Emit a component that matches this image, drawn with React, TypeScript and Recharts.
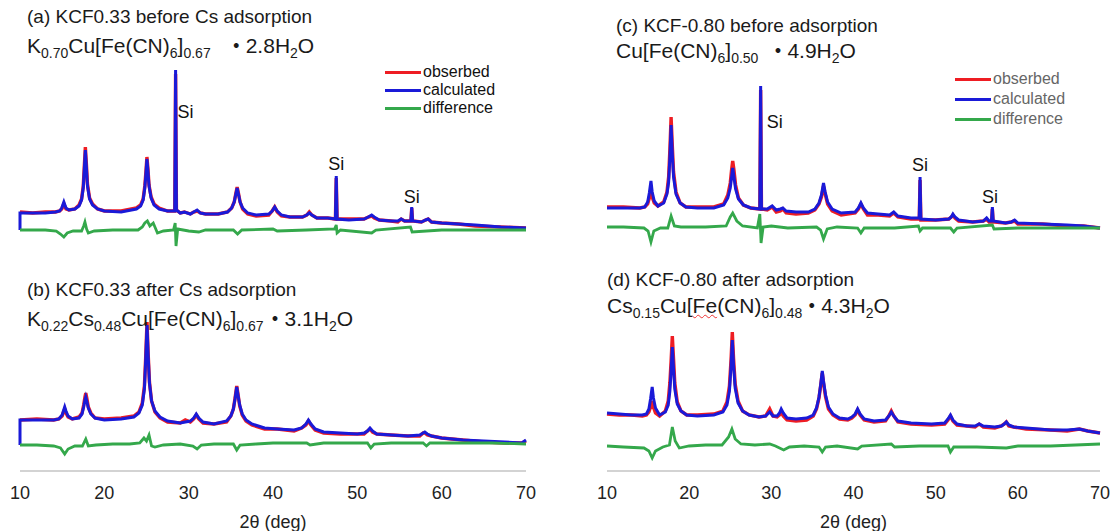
import * as React from 'react';
import { LineChart, Line, XAxis, YAxis, ReferenceDot } from 'recharts';

// 2θ (deg), intensity (a.u.)
const obsA = [[10,38],[11.5,37],[13,38],[14.2,38],[14.7,39],[14.95,41],[15.2,46],[15.45,41],[15.8,40],[16.5,41],[17.0,45],[17.3,51],[17.5,64],[17.62,83],[17.75,103],[17.88,85],[18.0,66],[18.25,52],[18.6,46],[19.2,41],[20,39],[22,39],[23.8,42],[24.3,45],[24.6,51],[24.8,64],[24.93,78],[25.05,93],[25.18,80],[25.3,65],[25.55,53],[25.9,46],[26.5,42],[27.5,39],[28.35,39],[28.45,176],[28.55,40],[29.0,37],[29.5,38],[30.2,36],[30.6,38],[31.0,39],[31.4,37],[32,36],[33.5,36],[34.6,38],[35.1,42],[35.4,48],[35.6,57],[35.75,63],[35.9,57],[36.1,48],[36.4,41],[37,36],[38,34],[39.5,35],[39.9,39],[40.2,43],[40.5,38],[41,34],[42,33],[43.5,33],[44.0,35],[44.3,38],[44.6,35],[45.2,32],[46.5,32],[47.4,31],[47.5,72],[47.6,31],[49,31],[50.8,31],[51.3,33],[51.7,34],[52.0,32],[52.6,30],[54,29],[54.8,28],[55.2,31],[55.6,29],[56.35,29],[56.45,42],[56.55,29],[57.6,28],[58.1,30],[58.4,31],[58.8,28],[60,27],[62,26],[64,24],[67,23],[70,22]];
const calcA = [[10,20],[10,37],[11.5,37],[13,37],[14.2,38],[14.7,39],[14.95,42],[15.2,48],[15.45,42],[15.8,40],[16.5,41],[17.0,44],[17.3,50],[17.5,62],[17.62,80],[17.75,100],[17.88,82],[18.0,64],[18.25,51],[18.6,45],[19.2,41],[20,39],[22,38],[23.8,41],[24.3,44],[24.6,50],[24.8,62],[24.93,76],[25.05,91],[25.18,78],[25.3,64],[25.55,52],[25.9,45],[26.5,41],[27.5,39],[28.35,39],[28.45,180],[28.55,40],[29.0,37],[29.5,38],[30.2,36],[30.6,38],[31.0,40],[31.4,37],[32,36],[33.5,36],[34.6,38],[35.1,42],[35.4,48],[35.6,56],[35.75,62],[35.9,56],[36.1,48],[36.4,42],[37,37],[38,35],[39.5,36],[39.9,39],[40.2,43],[40.5,39],[41,35],[42,33],[43.5,33],[44.0,35],[44.3,37],[44.6,35],[45.2,32],[46.5,32],[47.4,31],[47.5,74],[47.6,31],[49,30],[50.8,31],[51.3,33],[51.7,35],[52.0,33],[52.6,30],[54,29],[54.8,29],[55.2,31],[55.6,29],[56.35,29],[56.45,43],[56.55,29],[57.6,28],[58.1,30],[58.4,31],[58.8,28],[60,27],[62,26],[64,25],[67,23],[70,22]];
const diffA = [[10,20],[13,20],[14.3,19],[14.8,16],[15.2,13],[15.6,17],[16.3,19],[17.3,19],[17.55,24],[17.7,28],[17.9,21],[18.1,17],[18.8,19],[21,20],[24,20],[24.5,23],[24.8,27],[25.1,29],[25.4,24],[25.8,27],[26.3,17],[27,19],[28.2,20],[28.4,27],[28.5,4],[28.7,21],[30,19],[31.2,18],[32,20],[35.3,20],[35.8,16],[36.3,20],[40,21],[40.5,19],[44,20],[47.3,21],[47.5,25],[47.6,17],[48,20],[51.7,17],[52.2,20],[56.3,23],[56.5,18],[60,20],[65,20],[70,20]];

const obsB = [[10,51],[12,52],[14,51],[14.6,52],[15.0,55],[15.15,59],[15.3,62],[15.45,58],[15.7,54],[16.2,52],[17.0,54],[17.35,58],[17.55,66],[17.7,74],[17.8,78],[17.92,73],[18.1,64],[18.4,58],[18.9,53],[20,52],[22,53],[23.5,55],[24.1,59],[24.5,68],[24.75,85],[24.9,113],[25.06,149],[25.2,117],[25.35,89],[25.6,70],[26.0,59],[26.6,53],[27.5,49],[29,48],[29.6,51],[30.2,49],[30.6,52],[30.9,56],[31.2,52],[31.7,48],[33,47],[34.5,49],[35.0,55],[35.3,62],[35.5,73],[35.7,85],[35.85,77],[36.05,65],[36.35,56],[36.8,50],[37.5,46],[39,42],[40.5,42],[42.5,40],[43.4,43],[43.9,46],[44.2,50],[44.5,46],[45.0,41],[46,38],[48,37],[50,37],[50.8,37],[51.2,40],[51.5,42],[51.8,39],[52.3,37],[54,36],[56,35],[57.4,35],[57.8,38],[58.0,38],[58.3,36],[58.8,35],[60,33],[62.5,31],[65,29],[67.5,28],[69.5,28],[70,30]];
const calcB = [[10,26],[10,51],[12,51],[14,51],[14.6,52],[15.0,56],[15.15,60],[15.3,64],[15.45,60],[15.7,55],[16.2,52],[17.0,53],[17.35,57],[17.55,64],[17.7,71],[17.8,74],[17.92,70],[18.1,63],[18.4,57],[18.9,53],[20,51],[22,52],[23.5,54],[24.1,58],[24.5,66],[24.75,82],[24.9,110],[25.06,146],[25.2,115],[25.35,88],[25.6,70],[26.0,60],[26.6,54],[27.5,50],[29,48],[30.2,50],[30.6,53],[30.9,57],[31.2,53],[31.7,49],[33,47],[34.5,50],[35.0,55],[35.3,62],[35.5,72],[35.7,84],[35.85,76],[36.05,66],[36.35,57],[36.8,51],[37.5,47],[39,43],[40.5,42],[42.5,41],[43.4,43],[43.9,47],[44.2,51],[44.5,47],[45.0,42],[46,39],[48,38],[50,37],[50.8,38],[51.2,40],[51.5,43],[51.8,40],[52.3,37],[54,36],[56,35],[57.4,36],[57.8,38],[58.0,39],[58.3,37],[58.8,35],[60,33],[62.5,31],[65,30],[67.5,29],[69.5,28],[70,31]];
const diffB = [[10,26],[12,26],[14,25],[14.8,23],[15.3,17],[15.7,22],[16.5,25],[17.4,25],[17.8,32],[18.1,25],[19,26],[21,27],[23,27],[24.2,28],[24.7,33],[25,30],[25.3,36],[25.6,25],[26,24],[27,26],[29,27],[30.5,25],[31,22],[31.5,26],[33,27],[35.3,27],[35.7,21],[36.1,26],[38,27],[40,28],[44,28],[44.4,26],[46,28],[51.2,28],[51.6,23],[52,27],[54,28],[57.8,28],[58.2,25],[58.6,28],[62,28],[66,28],[70,27]];

const obsC = [[10,43],[12,43],[14,42],[14.6,43],[14.95,46],[15.15,52],[15.35,61],[15.5,53],[15.75,47],[16.2,44],[16.9,48],[17.3,58],[17.5,73],[17.65,100],[17.8,133],[17.95,104],[18.1,78],[18.4,58],[18.9,47],[19.6,43],[21,43],[23,43],[24.2,46],[24.7,55],[25.0,67],[25.15,79],[25.3,89],[25.45,80],[25.65,65],[26.0,52],[26.6,45],[27.5,42],[28.6,41],[28.7,160],[28.8,41],[29.5,40],[30.1,43],[30.6,38],[31.1,39],[31.4,41],[31.8,37],[33,36],[34.5,37],[35.3,40],[35.8,46],[36.1,53],[36.35,64],[36.55,56],[36.85,46],[37.4,39],[38.5,35],[40.2,37],[40.6,41],[40.9,46],[41.2,41],[41.7,35],[43,35],[44.4,34],[44.9,37],[45.4,33],[47,31],[48.0,31],[48.1,70],[48.2,30],[50,30],[51.6,31],[51.9,33],[52.1,35],[52.35,32],[52.8,29],[54.5,28],[55.8,29],[56.2,31],[56.5,28],[56.8,28],[56.9,41],[57.0,28],[58.5,27],[59.2,28],[59.6,29],[60.0,26],[63,26],[66,24],[68,24],[70,22]];
const calcC = [[10,42],[12,42],[14,42],[14.6,43],[14.95,48],[15.15,57],[15.35,69],[15.5,58],[15.75,49],[16.2,44],[16.9,47],[17.3,56],[17.5,68],[17.65,92],[17.8,125],[17.95,96],[18.1,73],[18.4,56],[18.9,47],[19.6,43],[21,42],[23,42],[24.2,45],[24.7,52],[25.0,62],[25.15,72],[25.3,82],[25.45,73],[25.65,61],[26.0,51],[26.6,45],[27.5,42],[28.6,41],[28.7,164],[28.8,41],[29.5,41],[30.1,44],[30.6,40],[31.1,41],[31.4,42],[31.8,39],[33,38],[34.5,38],[35.3,41],[35.8,47],[36.1,55],[36.35,67],[36.55,58],[36.85,48],[37.4,41],[38.5,37],[40.2,38],[40.6,42],[40.9,47],[41.2,42],[41.7,37],[43,36],[44.4,35],[44.9,38],[45.4,34],[47,32],[48.0,32],[48.1,73],[48.2,31],[50,30],[51.6,31],[51.9,33],[52.1,36],[52.35,33],[52.8,30],[54.5,28],[55.8,29],[56.2,32],[56.5,29],[56.8,29],[56.9,43],[57.0,29],[58.5,27],[59.2,28],[59.6,30],[60.0,27],[63,26],[66,25],[68,24],[70,22]];
const diffC = [[10,23],[12,23],[14.5,22],[15.0,19],[15.35,8],[15.7,19],[16.5,22],[17.4,22],[17.8,34],[18.2,24],[19,23],[22,23],[24.5,24],[25.0,33],[25.3,37],[25.8,29],[26.5,24],[28.3,22],[28.6,36],[28.75,7],[29.0,23],[30,24],[32,22],[35.5,23],[36.0,20],[36.35,11],[36.8,21],[38,23],[40.5,22],[40.9,17],[41.3,22],[45,22],[47.9,24],[48.1,19],[48.4,22],[51.8,22],[52.2,18],[52.6,22],[56.9,25],[57.1,21],[60,22],[64,22],[70,22]];

const obsD = [[10,57],[11.5,56],[13,56],[14.3,55],[14.8,56],[15.1,59],[15.3,64],[15.5,70],[15.65,64],[15.9,58],[16.4,55],[17.1,60],[17.45,70],[17.65,88],[17.8,110],[17.95,135],[18.1,112],[18.25,88],[18.55,69],[19.0,60],[19.7,56],[21,56],[23,57],[24.1,60],[24.6,69],[24.9,85],[25.1,112],[25.25,139],[25.4,113],[25.6,87],[25.95,70],[26.5,60],[27.3,56],[28.5,54],[29.3,55],[29.8,62],[30.2,55],[30.7,54],[31.0,56],[31.2,59],[31.45,55],[31.9,51],[33,50],[34.3,51],[35.1,55],[35.5,62],[35.8,73],[36.0,85],[36.2,98],[36.35,88],[36.6,74],[36.95,62],[37.5,56],[38.3,52],[39.3,51],[39.8,53],[40.2,56],[40.5,61],[40.8,56],[41.3,51],[42.5,49],[43.9,50],[44.3,55],[44.6,60],[44.9,55],[45.4,49],[47,47],[49.5,46],[51.1,47],[51.5,51],[51.8,55],[52.1,50],[52.6,46],[53.8,45],[54.8,44],[55.3,47],[55.8,44],[57.2,43],[58.0,45],[58.35,47],[58.6,49],[58.9,45],[59.5,44],[61,42],[64,41],[66,40],[67.5,42],[68.5,40],[70,38]];
const calcD = [[10,58],[11.5,57],[13,56],[14.3,56],[14.8,57],[15.1,62],[15.3,72],[15.5,84],[15.65,73],[15.9,63],[16.4,56],[17.1,59],[17.45,66],[17.65,80],[17.8,100],[17.95,124],[18.1,102],[18.25,82],[18.55,67],[19.0,60],[19.7,56],[21,55],[23,56],[24.1,59],[24.6,66],[24.9,80],[25.1,105],[25.25,131],[25.4,106],[25.6,83],[25.95,68],[26.5,60],[27.3,56],[28.5,54],[29.3,55],[29.8,59],[30.2,55],[30.7,55],[31.0,58],[31.2,62],[31.45,58],[31.9,53],[33,52],[34.3,53],[35.1,56],[35.5,63],[35.8,74],[36.0,86],[36.2,100],[36.35,90],[36.6,76],[36.95,64],[37.5,57],[38.3,53],[39.3,52],[39.8,54],[40.2,57],[40.5,62],[40.8,57],[41.3,52],[42.5,50],[43.9,51],[44.3,55],[44.6,59],[44.9,55],[45.4,50],[47,48],[49.5,47],[51.1,48],[51.5,52],[51.8,56],[52.1,51],[52.6,47],[53.8,45],[54.8,45],[55.3,47],[55.8,45],[57.2,44],[58.0,45],[58.35,47],[58.6,49],[58.9,46],[59.5,44],[61,43],[64,41],[66,41],[67.5,42],[68.5,40],[70,38]];
const diffD = [[10,25],[12,24],[14.5,23],[15.1,20],[15.5,13],[15.9,20],[16.8,24],[17.6,26],[17.95,44],[18.3,30],[18.8,23],[20,25],[22,26],[24,26],[24.8,34],[25.2,42],[25.6,32],[26.3,27],[28,26],[29.8,27],[30.5,25],[31.5,21],[32.2,24],[34,25],[35.8,24],[36.2,19],[36.6,24],[38,25],[40.5,22],[41,25],[44.6,27],[45,24],[48,25],[51.5,25],[51.8,19],[52.2,24],[55,24],[58.6,23],[60,25],[64,25],[67,26],[70,27]];

const xTicks = [10, 20, 30, 40, 50, 60, 70];
const legendItems = ['obserbed', 'calculated', 'difference'];

const RED = '#ee1d23';
const BLUE = '#1a1ad8';
const GREEN = '#34a84b';
const FONT = '"Liberation Sans", Arial, sans-serif';

if (typeof document !== 'undefined') {
  document.body.style.margin = '0';
  document.body.style.overflow = 'hidden';
}

const pts = (arr: number[][]) => arr.map(([x, y]) => ({ x, y }));

type SiMark = { x: number; y: number; pos: 'top' | 'right'; offset: number };

function Panel(props: {
  left: number; top: number; plotW: number; plotH: number; axis: boolean;
  mLeft: number; mRight: number;
  obs: number[][]; calc: number[][]; diff: number[][]; si?: SiMark[];
}) {
  const { left, top, plotW, plotH, axis, mLeft, mRight, obs, calc, diff, si } = props;
  const axisH = axis ? 60 : 0;
  return (
    <div style={{ position: 'absolute', left, top }}>
      <LineChart width={mLeft + plotW + mRight} height={plotH + axisH}
        margin={{ top: 0, right: mRight, bottom: 0, left: mLeft }}>
        <XAxis dataKey="x" type="number" domain={[10, 70]} ticks={xTicks}
          hide={!axis} height={axisH} tickLine={false}
          axisLine={{ stroke: '#c4c4c4', strokeWidth: 1.5 }}
          tick={{ fill: '#222', fontSize: 18, fontFamily: FONT }} tickMargin={9}
          label={{ value: '2θ (deg)', position: 'insideBottom', offset: 3, fill: '#222', fontSize: 18, fontFamily: FONT }} />
        <YAxis type="number" domain={[0, plotH]} hide />
        <Line data={pts(obs)} dataKey="y" stroke={RED} strokeWidth={3.4} dot={false} isAnimationActive={false} />
        <Line data={pts(calc)} dataKey="y" stroke={BLUE} strokeWidth={3} dot={false} isAnimationActive={false} />
        <Line data={pts(diff)} dataKey="y" stroke={GREEN} strokeWidth={2.8} dot={false} isAnimationActive={false} />
        {(si || []).map((s, i) => (
          <ReferenceDot key={i} x={s.x} y={s.y} r={0} fill="none" stroke="none"
            label={{ value: 'Si', position: s.pos, offset: s.offset, fill: '#111', fontSize: 18, fontFamily: FONT }} />
        ))}
      </LineChart>
    </div>
  );
}

function Legend(props: { left: number; top: number; gap: number; color: string }) {
  const colors = [RED, BLUE, GREEN];
  return (
    <div style={{ position: 'absolute', left: props.left, top: props.top, fontFamily: FONT, fontSize: 16, color: props.color }}>
      {legendItems.map((t, i) => (
        <div key={t} style={{ display: 'flex', alignItems: 'center', height: props.gap }}>
          <span style={{ display: 'inline-block', width: 36, height: 3, background: colors[i], marginRight: 2 }} />
          <span>{t}</span>
        </div>
      ))}
    </div>
  );
}

const titleStyle: React.CSSProperties = { position: 'absolute', fontFamily: FONT, fontSize: 19, color: '#1a1a1a', whiteSpace: 'nowrap', lineHeight: '22px' };
const formulaStyle: React.CSSProperties = { ...titleStyle, fontSize: 21 };
const subStyle: React.CSSProperties = { fontSize: 14, verticalAlign: -5, lineHeight: 0 };

const Dot = (props: { ml: number }) => (
  <span style={{ display: 'inline-block', marginLeft: props.ml, fontSize: 19, fontWeight: 700, fontFamily: '"Noto Sans CJK JP", sans-serif' }}>・</span>
);

export default function App() {
  return (
    <div style={{ position: 'relative', width: 1114, height: 531, background: '#fff', overflow: 'hidden' }}>
      <Panel left={0} top={60} plotW={506} plotH={190} axis={false} mLeft={20} mRight={20}
        obs={obsA} calc={calcA} diff={diffA}
        si={[{ x: 28.45, y: 138, pos: 'right', offset: 2 }, { x: 47.5, y: 74, pos: 'top', offset: 6 }, { x: 56.45, y: 43, pos: 'top', offset: 4 }]} />
      <Panel left={0} top={300} plotW={506} plotH={171} axis mLeft={20} mRight={20}
        obs={obsB} calc={calcB} diff={diffB} />
      <Panel left={587} top={60} plotW={493} plotH={190} axis={false} mLeft={20} mRight={14}
        obs={obsC} calc={calcC} diff={diffC}
        si={[{ x: 28.7, y: 128, pos: 'right', offset: 6 }, { x: 48.1, y: 73, pos: 'top', offset: 6 }, { x: 56.6, y: 43, pos: 'top', offset: 4 }]} />
      <Panel left={587} top={300} plotW={493} plotH={171} axis mLeft={20} mRight={14}
        obs={obsD} calc={calcD} diff={diffD} />

      <Legend left={385} top={63} gap={18} color="#111" />
      <Legend left={955} top={69} gap={20} color="#666" />

      <div style={{ ...titleStyle, left: 27, top: 6 }}>(a) KCF0.33 before Cs adsorption</div>
      <div style={{ ...formulaStyle, left: 27, top: 34 }}>
        K<sub style={subStyle}>0.70</sub>Cu[Fe(CN)<sub style={subStyle}>6</sub>]<sub style={subStyle}>0.67</sub><Dot ml={16} />2.8H<sub style={subStyle}>2</sub>O
      </div>
      <div style={{ ...titleStyle, left: 27, top: 279 }}>(b) KCF0.33 after Cs adsorption</div>
      <div style={{ ...formulaStyle, left: 27, top: 307 }}>
        K<sub style={subStyle}>0.22</sub>Cs<sub style={subStyle}>0.48</sub>Cu[Fe(CN)<sub style={subStyle}>6</sub>]<sub style={subStyle}>0.67</sub><Dot ml={2} />3.1H<sub style={subStyle}>2</sub>O
      </div>
      <div style={{ ...titleStyle, left: 616, top: 15 }}>(c) KCF-0.80 before adsorption</div>
      <div style={{ ...formulaStyle, left: 616, top: 39 }}>
        Cu[Fe(CN)<sub style={subStyle}>6</sub>]<sub style={subStyle}>0.50</sub><Dot ml={10} />4.9H<sub style={subStyle}>2</sub>O
      </div>
      <div style={{ ...titleStyle, left: 607, top: 269 }}>(d) KCF-0.80 after adsorption</div>
      <div style={{ ...formulaStyle, left: 607, top: 294 }}>
        Cs<sub style={subStyle}>0.15</sub>Cu[<span style={{ textDecoration: 'underline wavy #e33', textDecorationThickness: 1 }}>Fe</span>(CN)<sub style={subStyle}>6</sub>]<sub style={subStyle}>0.48</sub><Dot ml={0} />4.3H<sub style={subStyle}>2</sub>O
      </div>
    </div>
  );
}
